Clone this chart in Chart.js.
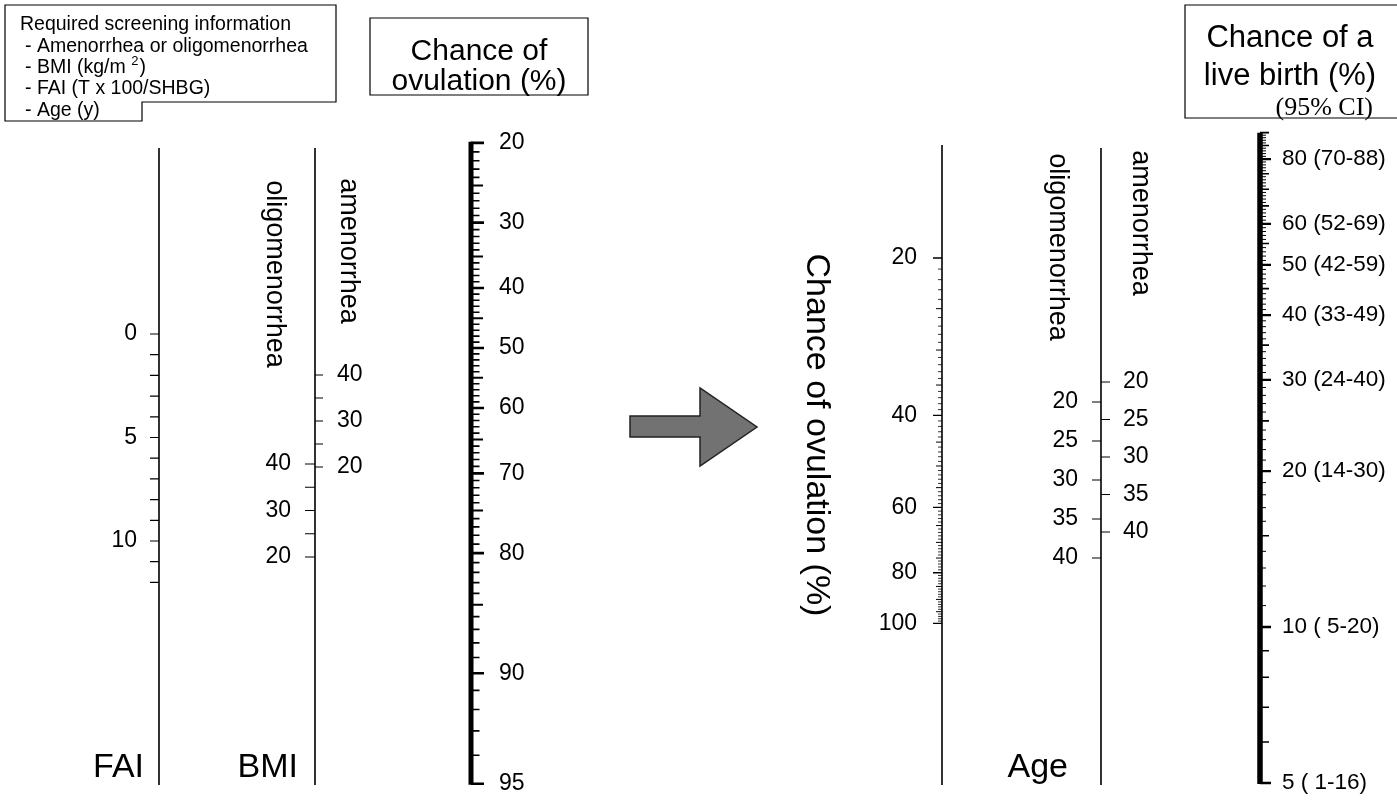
<!DOCTYPE html>
<html>
<head>
<meta charset="utf-8">
<title>Nomogram: chance of ovulation and live birth</title>
<script src="https://cdn.jsdelivr.net/npm/chart.js@4.4.1/dist/chart.umd.min.js"></script>
<style>
  html, body { margin: 0; padding: 0; background: #fff; }
  canvas { display: block; }
</style>
</head>
<body>
<canvas id="nomogram" width="1397" height="805"></canvas>
<script>
// ---- values ----
const screeningLines = [
  "Required screening information",
  "- Amenorrhea or oligomenorrhea",
  "- BMI (kg/m",
  "- FAI (T x 100/SHBG)",
  "- Age (y)",
];

const faiTicks = [0, 1, 2, 3, 4, 5, 6, 7, 8, 9, 10, 11, 12];
const faiLabels = [0, 5, 10];

const bmiTicks = [40, 35, 30, 25, 20];
const bmiLabels = [40, 30, 20];

const ovulationLabels = [20, 30, 40, 50, 60, 70, 80, 90, 95];
const ovulationHalf = [25, 35, 45, 55, 65, 75, 85];

const ovulationLogLabels = [20, 40, 60, 80, 100];
const ovulationLogHalf = [25, 30, 35, 45, 50, 55, 65, 70, 75, 85, 90, 95];

const ageTicks = [20, 25, 30, 35, 40];

const liveBirth = [80, 60, 50, 40, 30, 20, 10, 5];
const liveBirthLow = [70, 52, 42, 33, 24, 14, 5, 1];
const liveBirthHigh = [88, 69, 59, 49, 40, 30, 20, 16];
const liveBirthHalf = [90, 85, 75, 70, 65, 55, 45, 35, 25, 15, 9, 8, 7, 6];

// ---- helpers ----
const steps = (from, to, by) => {
  const out = [];
  for (let v = from; v <= to + 1e-9; v += by) out.push(+v.toFixed(3));
  return out;
};
const without = (list, skip) => list.filter((v) => !skip.includes(v));
const logit = (p) => Math.log(p / (100 - p));

// where each nomogram scale sits on the page (layout only)
const axes = {
  fai: { x: 159, top: 148, bottom: 785, width: 1.6, pos: (v) => 334 + 20.7 * v },
  bmiOligo: { x: 315, pos: (v) => 464 + 4.65 * (40 - v) },
  bmiAmen: { x: 315, pos: (v) => 375 + 4.6 * (40 - v) },
  bmi: { x: 315, top: 148, bottom: 785, width: 1.6 },
  ovulation: { x: 471, width: 5, pos: (p) => 348 + 148 * logit(p) },
  ovulationLog: { x: 942, top: 145, bottom: 785, width: 1.6, pos: (p) => 258 + 227 * Math.log(p / 20) },
  ageOligo: { x: 1101, pos: (a) => 402 + 7.8 * (a - 20) },
  ageAmen: { x: 1101, pos: (a) => 382 + 7.5 * (a - 20) },
  age: { x: 1101, top: 148, bottom: 785, width: 1.6 },
  liveBirth: { x: 1260, width: 5.5, pos: (p) => 783 - 225 * Math.log(p / 5) },
};

const spine = (x, y0, y1, width) => ({
  data: [{ x, y: y0 }, { x, y: y1 }],
  showLine: true,
  borderColor: "#000",
  borderWidth: width,
  pointRadius: 0,
  clip: false,
});

const tickMarks = (x, values, pos, len, width) => {
  const data = [];
  values.forEach((v) => {
    data.push({ x, y: pos(v) }, { x: x + len, y: pos(v) }, { x: null, y: null });
  });
  return { data, showLine: true, borderColor: "#000", borderWidth: width, pointRadius: 0, clip: false, spanGaps: false };
};

const A = axes;
const datasets = [
  spine(A.fai.x, A.fai.top, A.fai.bottom, A.fai.width),
  tickMarks(A.fai.x, faiTicks, A.fai.pos, -9, 1.2),

  spine(A.bmi.x, A.bmi.top, A.bmi.bottom, A.bmi.width),
  tickMarks(A.bmi.x, bmiTicks, A.bmiOligo.pos, -10, 1.2),
  tickMarks(A.bmi.x, bmiTicks, A.bmiAmen.pos, 8, 1.2),

  spine(A.ovulation.x, A.ovulation.pos(20) - 1, A.ovulation.pos(95) + 1, A.ovulation.width),
  tickMarks(A.ovulation.x, ovulationLabels, A.ovulation.pos, 13, 2.6),
  tickMarks(A.ovulation.x, ovulationHalf, A.ovulation.pos, 12, 2),
  tickMarks(A.ovulation.x, without(steps(20, 95, 1), [...ovulationLabels, ...ovulationHalf]), A.ovulation.pos, 8.5, 1.6),

  spine(A.ovulationLog.x, A.ovulationLog.top, A.ovulationLog.bottom, A.ovulationLog.width),
  tickMarks(A.ovulationLog.x, ovulationLogLabels, A.ovulationLog.pos, -9, 1.4),
  tickMarks(A.ovulationLog.x, ovulationLogHalf, A.ovulationLog.pos, -6, 1),
  tickMarks(A.ovulationLog.x, without(steps(20, 100, 1), [...ovulationLogLabels, ...ovulationLogHalf]), A.ovulationLog.pos, -4, 0.8),

  spine(A.age.x, A.age.top, A.age.bottom, A.age.width),
  tickMarks(A.age.x, ageTicks, A.ageOligo.pos, -9, 1.2),
  tickMarks(A.age.x, ageTicks, A.ageAmen.pos, 9, 1.2),

  spine(A.liveBirth.x, A.liveBirth.pos(90), A.liveBirth.pos(5) + 1, A.liveBirth.width),
  tickMarks(A.liveBirth.x, liveBirth, A.liveBirth.pos, 11, 2.4),
  tickMarks(A.liveBirth.x, liveBirthHalf, A.liveBirth.pos, 9, 1.6),
  tickMarks(A.liveBirth.x, without(steps(10, 90, 1), [...liveBirth, ...liveBirthHalf]), A.liveBirth.pos, 6, 1),
];

const SANS = '"Liberation Sans", Arial, sans-serif';
const SERIF = '"Liberation Serif", "Times New Roman", serif';

const textPlugin = {
  id: "nomogramText",
  afterDraw(chart) {
    const { ctx } = chart;
    const sx = chart.scales.x;
    const sy = chart.scales.y;
    const px = (v) => sx.getPixelForValue(v);
    const py = (v) => sy.getPixelForValue(v);

    ctx.save();
    ctx.fillStyle = "#000";
    ctx.strokeStyle = "#000";

    const text = (str, x, y, size, align, font = SANS) => {
      ctx.font = `${size}px ${font}`;
      ctx.textAlign = align;
      ctx.textBaseline = "middle";
      ctx.fillText(str, px(x), py(y));
    };
    const baseText = (str, x, y, size, align, font = SANS) => {
      ctx.font = `${size}px ${font}`;
      ctx.textAlign = align;
      ctx.textBaseline = "alphabetic";
      ctx.fillText(str, px(x), py(y));
    };
    const vertical = (str, x, y, size) => {
      ctx.save();
      ctx.translate(px(x), py(y));
      ctx.rotate(Math.PI / 2);
      ctx.font = `${size}px ${SANS}`;
      ctx.textAlign = "center";
      ctx.textBaseline = "middle";
      ctx.fillText(str, 0, 0);
      ctx.restore();
    };
    const outline = (pts, width) => {
      ctx.beginPath();
      pts.forEach(([x, y], i) => (i ? ctx.lineTo(px(x), py(y)) : ctx.moveTo(px(x), py(y))));
      ctx.closePath();
      ctx.lineWidth = width;
      ctx.stroke();
    };

    // screening information box
    outline([[5, 5], [336, 5], [336, 102], [142, 102], [142, 121], [5, 121]], 1.2);
    screeningLines.forEach((line, i) => {
      const y = 25 + i * 21.3;
      text(line, i === 0 ? 20 : 25, y, 19.5, "left");
      if (line.endsWith("kg/m")) {
        ctx.font = `19.5px ${SANS}`;
        const w = ctx.measureText(line + " ").width;
        ctx.font = `13px ${SANS}`;
        ctx.textAlign = "left";
        ctx.fillText("2", px(25) + w, py(y - 6));
        const w2 = ctx.measureText("2").width;
        ctx.font = `19.5px ${SANS}`;
        ctx.fillText(")", px(25) + w + w2 + 1, py(y));
      }
    });

    // scale title boxes
    outline([[370, 18], [588, 18], [588, 95], [370, 95]], 1.2);
    baseText("Chance of", 479, 60, 30, "center");
    baseText("ovulation (%)", 479, 90, 30, "center");

    outline([[1185, 5], [1400, 5], [1400, 118], [1185, 118]], 1.2);
    baseText("Chance of a", 1290, 47, 31, "center");
    baseText("live birth (%)", 1290, 85, 31, "center");
    baseText("(95% CI)", 1373, 115, 26, "right", SERIF);

    // tick labels
    faiLabels.forEach((v) => text(String(v), 137, A.fai.pos(v), 23, "right"));
    bmiLabels.forEach((v) => text(String(v), 291, A.bmiOligo.pos(v), 23, "right"));
    bmiLabels.forEach((v) => text(String(v), 337, A.bmiAmen.pos(v), 23, "left"));
    ovulationLabels.forEach((v) => text(String(v), 499, A.ovulation.pos(v), 23, "left"));
    ovulationLogLabels.forEach((v) => text(String(v), 917, A.ovulationLog.pos(v), 23, "right"));
    ageTicks.forEach((v) => text(String(v), 1078, A.ageOligo.pos(v), 23, "right"));
    ageTicks.forEach((v) => text(String(v), 1123, A.ageAmen.pos(v), 23, "left"));
    liveBirth.forEach((v, i) => {
      const lo = String(liveBirthLow[i]).padStart(2, " ");
      text(`${v} (${lo}-${liveBirthHigh[i]})`, 1282, A.liveBirth.pos(v), 22.5, "left");
    });

    // axis names
    baseText("FAI", 144, 777, 34, "right");
    baseText("BMI", 298, 777, 34, "right");
    baseText("Age", 1068, 777, 34, "right");
    vertical("oligomenorrhea", 274, 274, 27);
    vertical("amenorrhea", 348, 251, 27);
    vertical("oligomenorrhea", 1057, 247, 27);
    vertical("amenorrhea", 1140, 223, 27);
    vertical("Chance of ovulation (%)", 816, 435, 34);

    // arrow between the two halves
    ctx.beginPath();
    [[630, 416], [700, 416], [700, 388], [757, 427], [700, 466], [700, 437], [630, 437]].forEach(([x, y], i) =>
      i ? ctx.lineTo(px(x), py(y)) : ctx.moveTo(px(x), py(y))
    );
    ctx.closePath();
    ctx.fillStyle = "#727272";
    ctx.fill();
    ctx.lineWidth = 1.5;
    ctx.strokeStyle = "#222";
    ctx.stroke();

    ctx.restore();
  },
};

new Chart(document.getElementById("nomogram"), {
  type: "scatter",
  data: { datasets },
  options: {
    responsive: false,
    animation: false,
    devicePixelRatio: 1,
    events: [],
    layout: { padding: 0 },
    plugins: { legend: { display: false }, tooltip: { enabled: false } },
    elements: { point: { radius: 0 }, line: { tension: 0 } },
    scales: {
      x: { type: "linear", min: 0, max: 1397, display: false },
      y: { type: "linear", min: 0, max: 805, reverse: true, display: false },
    },
  },
  plugins: [textPlugin],
});
</script>
</body>
</html>
